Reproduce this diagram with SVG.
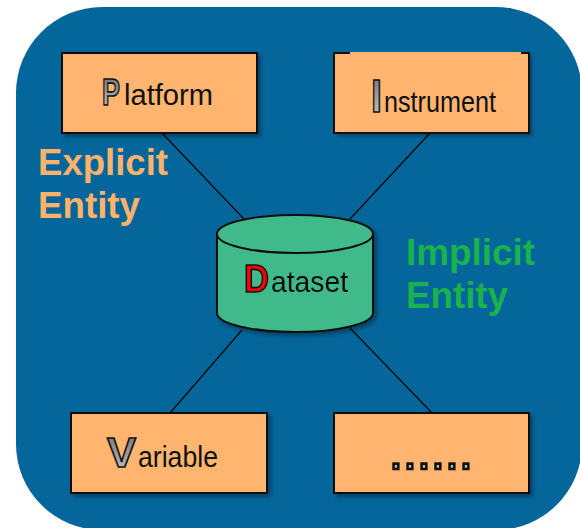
<svg xmlns="http://www.w3.org/2000/svg" width="580" height="528" viewBox="0 0 580 528">
  <defs>
    <linearGradient id="letterGray" x1="0" y1="0" x2="0" y2="1">
      <stop offset="0" stop-color="#6c6c6c"/>
      <stop offset="1" stop-color="#c9c9c9"/>
    </linearGradient>
    <filter id="shadow" x="-10%" y="-10%" width="130%" height="130%">
      <feDropShadow dx="3" dy="3" stdDeviation="2" flood-color="#000" flood-opacity="0.35"/>
    </filter>
  </defs>
  <style>
    text { font-family: "Liberation Sans", Arial, Helvetica, sans-serif; }
    .box { fill: #ffb570; stroke: #111; stroke-width: 2; }
    .label { font-size: 30px; fill: #111; }
    .initial { fill: url(#letterGray); stroke: #111; stroke-width: 1.6; font-weight: bold; }
    .link { stroke: #111; stroke-width: 1.6; fill: none; }
    .explicit { font-size: 36px; font-weight: bold; fill: #fbb36c; }
    .implicit { font-size: 36px; font-weight: bold; fill: #19b24d; }
  </style>

  <!-- background panel -->
  <rect x="16" y="7" width="566" height="523" rx="86" ry="86" fill="#04669b"/>

  <!-- connectors -->
  <g id="connectors">
    <line class="link" x1="162" y1="133" x2="244" y2="219"/>
    <line class="link" x1="430" y1="133" x2="350" y2="219"/>
    <line class="link" x1="170" y1="413" x2="242" y2="330"/>
    <line class="link" x1="432" y1="413" x2="350" y2="328"/>
  </g>

  <!-- Platform -->
  <g id="platform">
    <rect class="box" x="62" y="53" width="195" height="80" filter="url(#shadow)"/>
    <text class="initial" x="102" y="105" font-size="37" textLength="18" lengthAdjust="spacingAndGlyphs">P</text>
    <text class="label" x="124" y="105" textLength="89" lengthAdjust="spacingAndGlyphs">latform</text>
  </g>

  <!-- Instrument -->
  <g id="instrument">
    <rect x="334" y="52" width="195" height="81" fill="#ffb570" filter="url(#shadow)"/>
    <path d="M350,53 H334 V133 H529 V53 H521" fill="none" stroke="#111" stroke-width="2"/>
    <text class="initial" x="371" y="112" font-size="47" textLength="11" lengthAdjust="spacingAndGlyphs">I</text>
    <text class="label" x="384" y="112" textLength="112" lengthAdjust="spacingAndGlyphs">nstrument</text>
  </g>

  <!-- Dataset -->
  <g id="dataset" filter="url(#shadow)">
    <path d="M217,234 V313 A78,19 0 0 0 373,313 V234" fill="#40ba8a" stroke="#111" stroke-width="2"/>
    <ellipse cx="295" cy="234" rx="78" ry="19" fill="#40ba8a" stroke="#111" stroke-width="2"/>
    <text x="244" y="292" font-size="38" font-weight="bold" fill="#ff0000" stroke="#111" stroke-width="1.6" textLength="25" lengthAdjust="spacingAndGlyphs">D</text>
    <text class="label" x="271" y="292" font-size="29" textLength="77" lengthAdjust="spacingAndGlyphs">ataset</text>
  </g>

  <!-- Variable -->
  <g id="variable">
    <rect class="box" x="71" y="413" width="196" height="80" filter="url(#shadow)"/>
    <text class="initial" x="107" y="467" font-size="42" textLength="29" lengthAdjust="spacingAndGlyphs">V</text>
    <text class="label" x="138" y="467" font-size="33" textLength="80" lengthAdjust="spacingAndGlyphs">ariable</text>
  </g>

  <!-- More -->
  <g id="more">
    <rect class="box" x="334" y="413" width="195" height="80" filter="url(#shadow)"/>
    <text x="389" y="469" font-size="50" fill="#bdbdbd" stroke="#111" stroke-width="2.6" textLength="84" lengthAdjust="spacing">......</text>
  </g>

  <!-- entity annotations -->
  <g id="explicit-entity">
    <text class="explicit" x="38" y="175" textLength="130" lengthAdjust="spacingAndGlyphs">Explicit</text>
    <text class="explicit" x="38" y="218" textLength="102" lengthAdjust="spacingAndGlyphs">Entity</text>
  </g>
  <g id="implicit-entity">
    <text class="implicit" x="406" y="265" textLength="129" lengthAdjust="spacingAndGlyphs">Implicit</text>
    <text class="implicit" x="406" y="308" textLength="102" lengthAdjust="spacingAndGlyphs">Entity</text>
  </g>
</svg>
